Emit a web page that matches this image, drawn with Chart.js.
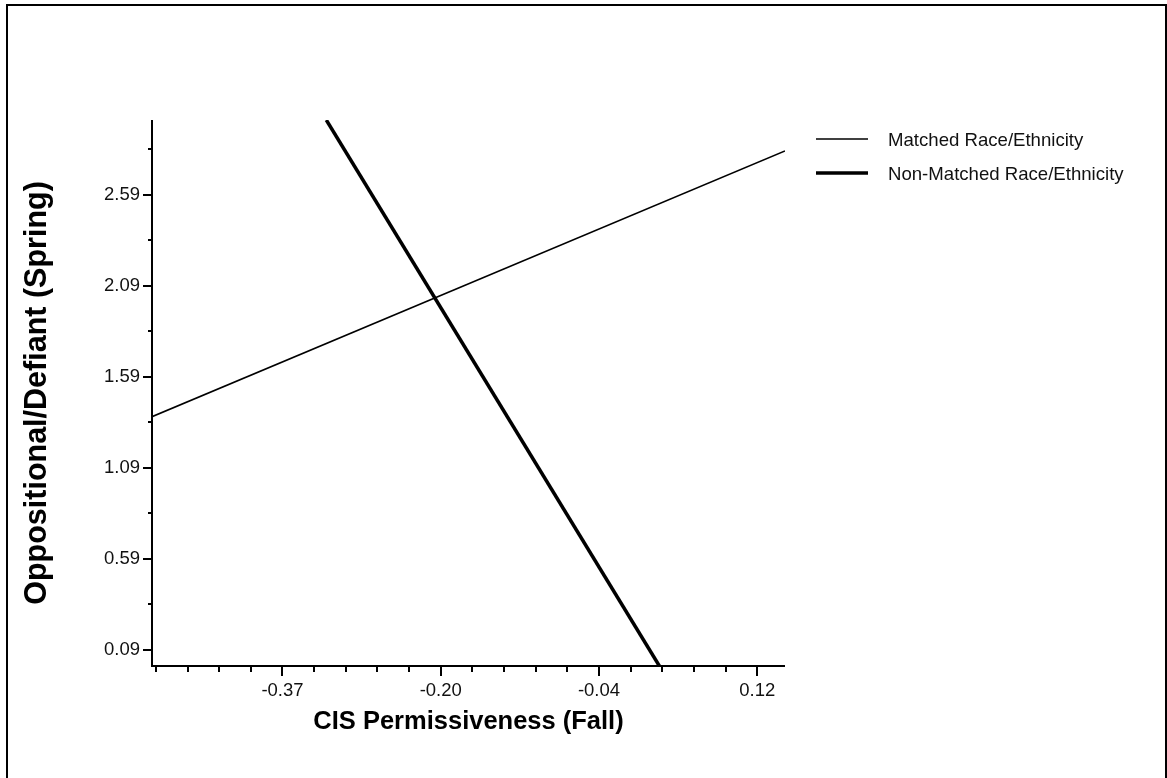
<!DOCTYPE html>
<html>
<head>
<meta charset="utf-8">
<script src="https://cdn.jsdelivr.net/npm/chart.js@4.4.1/dist/chart.umd.min.js"></script>
<style>
  html, body { margin: 0; padding: 0; background: #fff; overflow: hidden; }
  #wrap { position: relative; width: 1167px; height: 778px; }
  #frame { position: absolute; left: 6px; top: 4px; width: 1161px; height: 900px; box-sizing: border-box; border: 2px solid #000; pointer-events: none; }
  canvas { position: absolute; left: 0; top: 0; }
</style>
</head>
<body>
<div id="wrap">
  <canvas id="c" width="1167" height="778"></canvas>
  <div id="frame"></div>
</div>
<script>
// ---- data ----
const seriesNames = ['Matched Race/Ethnicity', 'Non-Matched Race/Ethnicity'];
const matchedX = [-0.50, 0.15];
const matchedY = [1.37, 2.83];
const nonMatchedX = [-0.321, 0.021];
const nonMatchedY = [3.00, 0.00];

const xTickValues = [-0.496, -0.4635, -0.431, -0.3985, -0.366, -0.3335, -0.301, -0.2685, -0.236, -0.2035,
                     -0.171, -0.1385, -0.106, -0.0735, -0.041, -0.0085, 0.024, 0.0565, 0.089, 0.1215];
const xMajorValues = [-0.366, -0.2035, -0.041, 0.1215];
const xMajorLabels = ['-0.37', '-0.20', '-0.04', '0.12'];

const yTickValues = [0.09, 0.34, 0.59, 0.84, 1.09, 1.34, 1.59, 1.84, 2.09, 2.34, 2.59, 2.84];
const yMajorValues = [0.09, 0.59, 1.09, 1.59, 2.09, 2.59];
const yMajorLabels = ['0.09', '0.59', '1.09', '1.59', '2.09', '2.59'];

const xRange = [-0.50, 0.15];
const yRange = [0.00, 3.00];

const xTitle = 'CIS Permissiveness (Fall)';
const yTitle = 'Oppositional/Defiant (Spring)';

// ---- helpers ----
function toPoints(xs, ys) { return xs.map((x, i) => ({ x: x, y: ys[i] })); }
function isMajor(list, v) { return list.some(m => Math.abs(m - v) < 1e-6); }
function labelFor(values, labels, v) {
  const i = values.findIndex(m => Math.abs(m - v) < 1e-6);
  return i >= 0 ? labels[i] : '';
}

const FONT = '"Liberation Sans", Arial, Helvetica, sans-serif';

const tickPlugin = {
  id: 'tickMarks',
  afterDraw(chart) {
    const ctx = chart.ctx;
    const xs = chart.scales.x, ys = chart.scales.y;
    const ca = chart.chartArea;
    ctx.save();
    ctx.strokeStyle = '#000';
    // axis lines
    ctx.lineWidth = 2;
    ctx.beginPath();
    ctx.moveTo(ca.left, ca.top);
    ctx.lineTo(ca.left, ca.bottom + 1);
    ctx.moveTo(ca.left - 1, ca.bottom);
    ctx.lineTo(ca.right, ca.bottom);
    ctx.stroke();
    // x ticks
    ctx.lineWidth = 2;
    xTickValues.forEach(v => {
      const px = Math.round(xs.getPixelForValue(v));
      const major = isMajor(xMajorValues, v);
      ctx.beginPath();
      ctx.moveTo(px, ca.bottom);
      ctx.lineTo(px, ca.bottom + (major ? 10 : 6));
      ctx.stroke();
    });
    // y ticks
    yTickValues.forEach(v => {
      const py = Math.round(ys.getPixelForValue(v));
      const major = isMajor(yMajorValues, v);
      ctx.beginPath();
      if (major) { ctx.moveTo(ca.left - 9, py); ctx.lineTo(ca.left, py); }
      else { ctx.moveTo(ca.left - 4, py); ctx.lineTo(ca.left + 1, py); }
      ctx.stroke();
    });
    // legend
    const lx0 = ca.right + 31, lx1 = ca.right + 83, tx = ca.right + 103;
    const rowY = [ca.top + 19, ca.top + 53];
    ctx.font = '18.6px ' + FONT;
    ctx.fillStyle = '#111';
    ctx.textBaseline = 'middle';
    ctx.textAlign = 'left';
    chart.data.datasets.forEach((ds, i) => {
      ctx.lineWidth = ds.borderWidth;
      ctx.strokeStyle = ds.borderColor;
      ctx.beginPath();
      ctx.moveTo(lx0, rowY[i]);
      ctx.lineTo(lx1, rowY[i]);
      ctx.stroke();
      ctx.fillText(ds.label, tx, rowY[i] + 2);
    });
    ctx.restore();
  }
};

new Chart(document.getElementById('c'), {
  type: 'scatter',
  data: {
    datasets: [
      { label: seriesNames[0], data: toPoints(matchedX, matchedY), showLine: true,
        borderColor: '#000', borderWidth: 1.6, pointRadius: 0, fill: false, tension: 0 },
      { label: seriesNames[1], data: toPoints(nonMatchedX, nonMatchedY), showLine: true,
        borderColor: '#000', borderWidth: 3.5, pointRadius: 0, fill: false, tension: 0 }
    ]
  },
  options: {
    responsive: false,
    animation: false,
    events: [],
    layout: { padding: { left: 0, top: 120, right: 382, bottom: 0 } },
    plugins: { legend: { display: false }, tooltip: { enabled: false }, title: { display: false } },
    scales: {
      x: {
        type: 'linear', min: xRange[0], max: xRange[1],
        afterBuildTicks(scale) { scale.ticks = xMajorValues.map(v => ({ value: v })); },
        afterFit(scale) { scale.height = 112; },
        grid: { display: false, drawTicks: true, tickLength: 10 },
        border: { display: false },
        ticks: {
          autoSkip: false, maxRotation: 0, minRotation: 0, padding: 4,
          color: '#111', font: { family: FONT, size: 18.5 },
          callback: (v) => labelFor(xMajorValues, xMajorLabels, v)
        },
        title: { display: true, text: xTitle, color: '#000',
          font: { family: FONT, size: 25.5, weight: 'bold' }, padding: { top: 0, bottom: 41 } }
      },
      y: {
        type: 'linear', min: yRange[0], max: yRange[1],
        afterBuildTicks(scale) { scale.ticks = yMajorValues.map(v => ({ value: v })); },
        afterFit(scale) { scale.width = 152; },
        grid: { display: false, drawTicks: true, tickLength: 9 },
        border: { display: false },
        ticks: {
          autoSkip: false, padding: 3,
          color: '#111', font: { family: FONT, size: 18.5 },
          callback: (v) => labelFor(yMajorValues, yMajorLabels, v)
        },
        title: { display: true, text: yTitle, color: '#000',
          font: { family: FONT, size: 30.5, weight: 'bold' }, padding: { top: 19, bottom: 0 } }
      }
    }
  },
  plugins: [tickPlugin]
});
</script>
</body>
</html>
